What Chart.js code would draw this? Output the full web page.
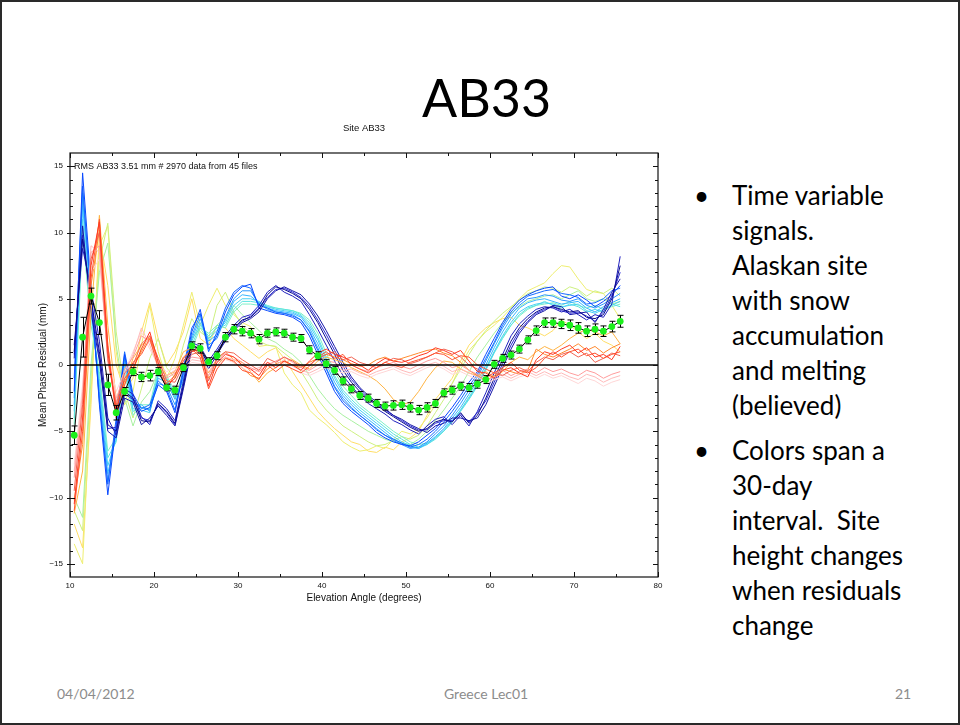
<!DOCTYPE html>
<html>
<head>
<meta charset="utf-8">
<script src="https://cdn.jsdelivr.net/npm/chart.js@4.4.0/dist/chart.umd.min.js"></script>
<style>
  html, body { margin: 0; padding: 0; background: #fff; }
  #slide { position: relative; width: 960px; height: 725px; overflow: hidden; font-family: Lato, "Open Sans", sans-serif; color: #000; }
  #border { position: absolute; left: 0; top: 0; width: 956px; height: 721px; border: 2px solid #2a2a2a; }
  #title { position: absolute; left: 0; width: 973px; top: 71px; text-align: center; font-size: 52px; line-height: 1; }
  #plot { position: absolute; left: 20px; top: 118px; width: 650px; height: 492px; }
  .blk { position: absolute; left: 732px; font-size: 26px; line-height: 35px; white-space: nowrap; }
  .dot { position: absolute; left: -38px; top: 0; }
  .foot { position: absolute; top: 685px; font-size: 14px; color: #8c8c8c; }
</style>
</head>
<body>
<div id="slide">
  <div id="border"></div>
  <div id="title">AB33</div>
  <div id="plot"><canvas id="chart"></canvas></div>
  <div class="blk" style="top:178px"><span class="dot">•</span>Time variable<br>signals.<br>Alaskan site<br>with snow<br>accumulation<br>and melting<br>(believed)</div>
  <div class="blk" style="top:433px"><span class="dot">•</span>Colors span a<br>30-day<br>interval.&nbsp; Site<br>height changes<br>when residuals<br>change</div>
  <div class="foot" style="left:57px">04/04/2012</div>
  <div class="foot" style="left:444px">Greece Lec01</div>
  <div class="foot" style="left:895px">21</div>
</div>
<script>
// elevation bins (deg)
const elev = [10.5, 11.5, 12.5, 13.5, 14.5, 15.5, 16.5, 17.5, 18.5, 19.5, 20.5,
  21.5, 22.5, 23.5, 24.5, 25.5, 26.5, 27.5, 28.5, 29.5, 30.5, 31.5,
  32.5, 33.5, 34.5, 35.5, 36.5, 37.5, 38.5, 39.5, 40.5, 41.5, 42.5,
  43.5, 44.5, 45.5, 46.5, 47.5, 48.5, 49.5, 50.5, 51.5, 52.5, 53.5,
  54.5, 55.5, 56.5, 57.5, 58.5, 59.5, 60.5, 61.5, 62.5, 63.5, 64.5,
  65.5, 66.5, 67.5, 68.5, 69.5, 70.5, 71.5, 72.5, 73.5, 74.5, 75.5];

// mean residual (mm) and its error
const meanRes = [-5.3, 2.1, 5.2, 3.2, -1.5, -3.6, -2.0, -0.5, -0.9, -0.8, -0.5,
  -1.7, -1.9, -0.2, 1.45, 1.25, 0.25, 0.7, 2.1, 2.7, 2.55, 2.4,
  1.95, 2.4, 2.5, 2.4, 2.1, 2.0, 1.15, 0.7, 0.1, -0.4, -1.2,
  -1.8, -2.3, -2.5, -2.9, -3.1, -3.05, -3.0, -3.2, -3.4, -3.2, -2.9,
  -2.1, -1.9, -1.6, -1.7, -1.45, -1.1, 0.05, 0.5, 0.75, 1.2, 1.9,
  2.6, 3.2, 3.2, 3.1, 3.0, 2.8, 2.55, 2.7, 2.55, 2.9, 3.3];
const meanErr = [0.7, 1.5, 0.6, 0.9, 0.8, 0.55, 0.3, 0.3, 0.35, 0.4, 0.3,
  0.25, 0.3, 0.3, 0.3, 0.35, 0.3, 0.3, 0.35, 0.35, 0.35, 0.35,
  0.35, 0.3, 0.3, 0.3, 0.3, 0.3, 0.3, 0.3, 0.3, 0.3, 0.3,
  0.3, 0.3, 0.3, 0.3, 0.3, 0.35, 0.35, 0.35, 0.35, 0.35, 0.3,
  0.3, 0.3, 0.3, 0.3, 0.3, 0.3, 0.3, 0.3, 0.3, 0.3, 0.3,
  0.35, 0.35, 0.35, 0.35, 0.4, 0.4, 0.4, 0.4, 0.4, 0.4, 0.45];

// daily residual curves, grouped by colour
const navy1 = [1.0, 9.5, 5.0, 1.0, -4.5, -5.0, -2.0, -2.5, -4.2, -4.3, -2.9,
  -3.5, -4.4, -1.5, 1.5, 1.2, 0.0, 1.0, 2.0, 2.8, 3.4, 3.6,
  4.2, 5.3, 5.9, 5.7, 5.4, 5.0, 4.2, 3.2, 2.0, 0.8, -0.4,
  -1.3, -2.0, -2.6, -3.0, -3.5, -3.9, -4.3, -4.7, -5.0, -4.8, -4.3,
  -4.1, -4.3, -3.6, -4.4, -3.8, -2.5, -1.0, 0.4, 1.8, 2.8, 3.5,
  4.0, 4.3, 4.4, 4.2, 4.0, 4.1, 3.6, 3.5, 3.8, 5.0, 7.5];
const navy2 = [0.5, 10.5, 4.0, 0.3, -5.0, -5.5, -2.5, -2.8, -4.5, -4.0, -3.1,
  -3.8, -4.6, -1.8, 1.2, 1.0, -0.3, 0.8, 1.8, 2.6, 3.2, 3.5,
  4.0, 5.0, 5.6, 5.9, 5.6, 5.3, 4.6, 3.7, 2.6, 1.4, 0.2,
  -0.9, -1.7, -2.3, -2.8, -3.3, -3.8, -4.1, -4.5, -4.8, -5.1, -4.6,
  -4.4, -4.0, -4.0, -4.2, -4.0, -3.0, -1.6, -0.2, 1.2, 2.4, 3.2,
  3.8, 4.1, 4.5, 4.4, 3.8, 3.9, 4.0, 3.2, 4.2, 5.5, 6.5];
const navy3 = [1.5, 8.8, 5.8, 1.8, -4.0, -5.3, -1.8, -2.2, -3.9, -4.5, -2.7,
  -3.3, -4.2, -1.2, 1.7, 1.4, 0.3, 1.2, 2.2, 3.0, 3.6, 3.8,
  4.5, 5.5, 6.0, 5.5, 5.2, 4.8, 3.8, 2.7, 1.5, 0.3, -0.8,
  -1.6, -2.3, -2.9, -3.3, -3.7, -4.2, -4.5, -4.9, -5.2, -4.6, -4.1,
  -3.9, -4.5, -3.8, -4.6, -3.5, -2.1, -0.6, 0.8, 2.2, 3.1, 3.7,
  4.2, 4.4, 4.3, 4.0, 4.2, 3.8, 3.4, 3.8, 3.6, 4.6, 8.2];
const navy4 = [0.8, 9.8, 4.6, 0.6, -4.8, -4.7, -2.2, -2.6, -4.0, -4.2, -3.0,
  -3.6, -4.5, -1.6, 1.4, 1.1, 0.1, 0.9, 1.9, 2.7, 3.3, 3.7,
  4.3, 5.1, 5.7, 5.8, 5.5, 5.1, 4.4, 3.4, 2.3, 1.1, -0.1,
  -1.1, -1.8, -2.5, -2.9, -3.4, -3.8, -4.2, -4.6, -4.9, -4.9, -4.4,
  -4.2, -4.2, -3.7, -4.3, -3.6, -2.7, -1.3, 0.1, 1.5, 2.6, 3.3,
  3.9, 4.2, 4.4, 4.1, 3.9, 4.0, 3.7, 3.3, 4.0, 5.2, 7.0];
const blue1 = [-2.0, 14.5, 6.0, -3.0, -9.8, -4.5, 0.8, -2.5, -3.5, -3.2, -1.5,
  -2.0, -3.6, -0.5, 2.5, 4.2, 1.2, 2.2, 4.0, 5.3, 5.9, 6.1,
  4.3, 4.1, 3.9, 3.8, 3.6, 3.2, 2.2, 0.8, -0.6, -2.0, -2.9,
  -3.5, -4.0, -4.5, -5.1, -5.5, -5.8, -6.0, -6.1, -5.8, -5.3, -4.8,
  -4.0, -3.2, -2.3, -1.3, -0.5, 0.8, 2.0, 3.2, 4.2, 4.9, 5.3,
  5.6, 5.8, 5.9, 5.2, 5.0, 5.3, 4.9, 4.4, 4.8, 5.3, 6.0];
const blue2 = [-1.0, 13.5, 5.2, -2.5, -9.0, -4.0, 1.0, -2.2, -3.3, -3.0, -1.2,
  -1.8, -3.4, -0.2, 2.8, 3.9, 1.0, 2.5, 4.3, 5.5, 6.0, 5.8,
  4.5, 4.3, 4.0, 3.9, 3.7, 3.4, 2.5, 1.1, -0.3, -1.7, -2.7,
  -3.3, -3.8, -4.3, -4.9, -5.3, -5.6, -5.9, -6.2, -6.0, -5.6, -5.0,
  -4.3, -3.5, -2.6, -1.6, -0.7, 0.5, 1.7, 3.0, 4.0, 4.7, 5.2,
  5.4, 5.6, 5.7, 5.4, 5.3, 5.1, 4.6, 4.7, 5.0, 5.6, 5.8];
const sky1 = [-2.5, 13.0, 5.5, -2.8, -8.8, -4.8, 0.6, -2.8, -3.2, -3.4, -1.4,
  -1.6, -3.0, -0.8, 2.2, 3.8, 1.5, 2.0, 3.6, 5.0, 5.6, 5.6,
  4.6, 4.2, 4.0, 3.9, 3.8, 3.4, 2.6, 1.3, -0.2, -1.6, -2.5,
  -3.2, -3.8, -4.3, -4.8, -5.3, -5.7, -6.0, -6.3, -6.2, -5.8, -5.2,
  -4.6, -3.8, -2.9, -1.9, -0.9, 0.3, 1.6, 2.8, 3.8, 4.5, 5.0,
  5.1, 5.3, 5.2, 4.9, 4.8, 5.0, 4.5, 4.3, 4.6, 5.0, 5.4];
const sky2 = [-3.0, 12.5, 4.8, -2.0, -8.2, -5.2, 0.4, -3.0, -3.0, -3.5, -1.0,
  -1.3, -2.6, -1.0, 2.0, 3.5, 1.8, 2.3, 3.4, 4.8, 5.3, 5.2,
  4.7, 4.3, 4.1, 4.0, 3.9, 3.6, 2.8, 1.6, 0.1, -1.3, -2.3,
  -3.0, -3.6, -4.1, -4.6, -5.1, -5.6, -5.9, -6.2, -6.3, -5.9, -5.4,
  -4.8, -4.0, -3.2, -2.2, -1.2, 0.0, 1.3, 2.5, 3.5, 4.3, 4.7,
  4.9, 5.0, 4.8, 4.6, 4.7, 4.8, 4.3, 4.0, 4.4, 4.7, 5.0];
const sky3 = [-3.5, 12.0, 4.3, -1.5, -7.6, -5.6, 0.2, -3.3, -3.4, -3.6, -0.8,
  -1.1, -2.4, -1.2, 1.8, 3.2, 2.0, 2.6, 3.2, 4.5, 5.0, 5.0,
  4.8, 4.4, 4.2, 4.1, 4.0, 3.7, 3.0, 1.9, 0.4, -1.0, -2.1,
  -2.8, -3.4, -3.9, -4.4, -4.9, -5.4, -5.8, -6.1, -6.3, -6.0, -5.5,
  -4.9, -4.2, -3.4, -2.5, -1.5, -0.3, 1.0, 2.2, 3.2, 4.0, 4.4,
  4.6, 4.7, 4.6, 4.4, 4.5, 4.6, 4.1, 3.9, 4.2, 4.5, 4.8];
const cyan1 = [-4.0, 11.0, 3.8, -1.0, -7.0, -5.8, 0.0, -3.5, -3.2, -3.3, -0.6,
  -1.0, -2.2, -1.4, 1.5, 3.0, 2.2, 2.8, 3.0, 4.2, 4.8, 4.8,
  4.7, 4.5, 4.3, 4.2, 4.1, 3.8, 3.2, 2.1, 0.6, -0.8, -1.9,
  -2.6, -3.2, -3.7, -4.2, -4.7, -5.2, -5.6, -6.0, -6.2, -6.0, -5.6,
  -5.0, -4.3, -3.5, -2.6, -1.6, -0.4, 0.9, 2.0, 3.0, 3.8, 4.3,
  4.5, 4.8, 4.5, 4.3, 4.6, 4.4, 4.0, 4.2, 4.0, 4.6, 4.4];
const cyan2 = [-4.5, 10.0, 3.0, -0.5, -6.5, -5.5, -0.5, -3.8, -3.0, -3.0, -0.3,
  -0.8, -2.0, -1.5, 1.2, 2.8, 2.4, 3.0, 2.8, 4.0, 4.6, 4.6,
  4.5, 4.4, 4.3, 4.2, 4.1, 3.9, 3.4, 2.4, 0.9, -0.5, -1.6,
  -2.3, -3.0, -3.5, -4.0, -4.5, -5.0, -5.4, -5.8, -6.0, -5.9, -5.5,
  -5.0, -4.3, -3.4, -2.4, -1.4, -0.2, 1.0, 2.1, 3.0, 3.7, 4.2,
  4.5, 4.6, 4.7, 4.5, 4.8, 4.5, 4.3, 4.5, 4.2, 4.4, 4.6];
const lgreen1 = [-10.0, -11.5, 0.0, 7.0, 9.2, 1.5, -2.5, -4.6, -2.8, -2.0, -0.5,
  -1.0, -2.5, -0.5, 2.0, 2.8, 1.8, 3.0, 3.6, 4.5, 3.8, 3.2,
  2.6, 2.0, 1.7, 1.2, 0.8, 0.2, -0.8, -1.8, -2.6, -3.3, -3.8,
  -4.2, -4.6, -5.0, -5.3, -5.6, -5.8, -5.9, -6.0, -5.6, -5.0, -4.2,
  -3.4, -2.5, -1.6, -0.5, 0.6, 1.5, 2.4, 3.2, 3.9, 4.4, 4.8,
  5.0, 5.2, 5.3, 5.0, 5.3, 5.6, 5.0, 4.8, 5.0, 4.6, 4.8];
const lgreen2 = [-11.0, -12.5, -1.0, 7.8, 10.7, 2.5, -2.0, -4.0, -1.8, 0.5, 2.0,
  -0.2, -1.0, 1.5, 3.5, 2.5, 2.0, 4.5, 5.5, 4.0, 3.0, 2.4,
  1.8, 1.5, 1.4, 0.9, 0.4, -0.5, -1.5, -2.6, -3.4, -4.0, -4.6,
  -5.0, -5.4, -5.8, -6.1, -6.0, -5.7, -5.4, -5.6, -5.3, -4.6, -3.6,
  -2.6, -1.4, -0.3, 0.8, 1.8, 2.6, 3.3, 3.9, 4.4, 4.9, 5.4,
  5.6, 5.9, 5.8, 5.5, 5.9, 5.7, 5.2, 5.6, 5.4, 5.8, 5.2];
const yellow1 = [-13.5, -15.0, -2.0, 9.0, 10.5, 1.0, -3.0, -2.0, 1.5, 4.5, 1.0,
  -1.0, 0.5, 3.0, 5.5, 3.0, 4.5, 5.8, 4.5, 3.8, 3.2, 2.9,
  1.4, 1.5, 1.4, -0.6, -1.5, -2.1, -3.4, -4.0, -4.5, -5.1, -5.8,
  -6.2, -6.5, -6.4, -6.1, -6.3, -5.6, -5.0, -5.2, -4.8, -4.0, -3.0,
  -2.2, -1.4, 0.0, 1.1, 1.8, 2.5, 3.0, 3.6, 4.3, 5.0, 5.6,
  5.9, 6.2, 6.9, 7.5, 7.4, 6.5, 5.7, 5.5, 5.4, 4.5, 3.5];
const yellow2 = [-12.0, -13.8, -3.0, 10.0, 6.0, 0.0, -2.0, -1.0, 2.5, 4.7, 2.0,
  0.0, 1.0, 2.5, 5.0, 2.0, 1.5, 3.0, 2.8, 2.0, 1.5, 1.0,
  0.5, 1.0, 1.3, 0.5, -0.5, -1.5, -2.5, -3.5, -4.2, -4.8, -5.3,
  -5.8, -6.0, -6.5, -6.6, -6.2, -6.4, -5.8, -5.5, -5.0, -3.8, -2.6,
  -1.8, -1.0, 0.3, 1.5, 2.2, 2.8, 3.2, 3.5, 3.6, 3.0, 2.8,
  2.5, 2.2, 2.6, 3.4, 3.0, 2.5, 2.0, 2.4, 1.8, 1.5, 1.0];
const orange1 = [-11.2, -8.0, 4.0, 11.3, 3.0, -2.5, -1.5, 0.5, 1.5, 2.0, 0.5,
  -0.8, -0.5, 1.0, 1.3, 0.8, -0.6, 0.5, 1.0, 0.4, 0.2, -0.5,
  -1.3, -0.6, -0.2, 0.2, 0.4, 0.0, -0.3, 0.3, 0.6, 0.4, 0.2,
  -0.2, -0.5, -0.8, -1.2, -1.8, -2.6, -3.0, -2.8, -2.0, -1.0, -0.2,
  0.3, 0.2, -0.3, -0.6, -0.8, -0.5, -0.9, -0.5, 0.2, 0.6, 0.4,
  1.0, 1.4, 1.1, 1.5, 2.0, 2.4, 2.7, 2.5, 2.2, 2.5, 1.6];
const orange2 = [-10.2, -6.0, 6.0, 10.2, 1.5, -3.2, -1.2, -0.2, 1.0, 2.2, 0.0,
  -1.4, -0.8, 0.6, 1.1, 1.3, -1.0, 0.0, 0.6, 0.2, -0.2, -0.8,
  -1.0, -0.3, 0.1, 0.3, 0.0, -0.2, 0.2, 0.5, 0.8, 0.6, 0.4,
  0.1, -0.1, 0.0, 0.4, 0.6, 0.3, 0.5, 0.7, 0.9, 1.1, 1.2,
  0.9, 0.7, 0.2, -0.4, -0.8, -1.2, -0.8, -0.3, -0.5, -0.7, -0.4,
  1.2, 0.8, 0.6, 0.9, 1.2, 1.6, 1.1, 1.4, 0.9, 1.3, 1.6];
const red1 = [-10.5, -4.0, 7.5, 10.8, 1.0, -3.5, -1.0, -0.3, 1.2, 2.5, 0.2,
  -1.6, -1.0, 0.3, 1.0, 1.2, -1.6, 0.2, 0.8, 0.6, 0.0, -0.3,
  -0.8, 0.2, -0.2, 0.3, 0.0, -0.4, 0.3, 0.9, 1.2, 0.8, 0.6,
  0.3, 0.0, -0.4, 0.1, 0.5, 0.3, 0.2, 0.4, 0.7, 0.9, 1.3,
  1.1, 0.8, 1.1, 0.3, -0.5, -0.6, -1.0, -0.4, -0.2, -0.6, -0.9,
  0.4, 1.0, 0.8, 1.2, 1.5, 0.9, 1.3, 0.6, 0.8, 0.4, 1.4];
const red2 = [-9.5, -3.0, 8.0, 10.0, 0.5, -3.0, -0.6, 0.0, 1.6, 2.2, 0.5,
  -1.2, -1.3, 0.0, 0.8, 1.0, -1.2, 0.5, 1.0, 0.9, 0.4, 0.0,
  -0.4, 0.5, 0.2, 0.6, 0.3, -0.1, 0.0, 0.5, 0.8, 1.0, 0.4,
  0.6, 0.2, 0.0, -0.2, 0.2, 0.5, 0.4, 0.1, 0.3, 0.6, 0.9,
  1.2, 1.0, 0.6, 0.0, -0.3, -0.9, -0.6, -0.8, -0.4, -0.2, -0.5,
  0.2, 0.6, 0.4, 0.8, 1.0, 0.6, 0.9, 0.2, 0.5, 0.9, 0.7];
const red3 = [-11.0, -5.0, 6.5, 11.0, 1.5, -4.0, -1.5, 0.2, 0.8, 2.0, -0.2,
  -1.8, -0.7, 0.5, 1.2, 0.6, -1.8, -0.3, 0.5, 0.3, -0.4, -0.6,
  -1.1, 0.0, -0.5, 0.0, -0.3, -0.6, -0.1, 0.6, 1.0, 0.5, 0.8,
  0.0, -0.3, -0.6, -0.2, 0.2, 0.0, -0.2, 0.2, 0.4, 0.6, 0.9,
  0.8, 0.4, 0.7, 0.6, 0.0, -0.3, -0.6, -0.2, 0.2, -0.4, -0.6,
  -0.2, 0.5, 1.0, 0.6, 1.0, 1.2, 0.7, 0.9, 0.5, 0.8, 1.0];
const pink1 = [-8.5, -2.5, 8.5, 9.0, 0.2, -2.8, -0.3, 0.6, 2.2, 1.8, 0.2,
  -1.0, -0.6, 0.0, 0.6, 0.5, -0.8, 0.4, 0.9, 0.6, 0.2, -0.2,
  -0.5, 0.0, 0.3, 0.6, 0.2, -0.2, -0.4, 0.0, 0.3, 0.2, -0.2,
  0.0, -0.3, -0.5, -0.2, 0.0, 0.2, -0.1, -0.3, 0.0, 0.3, 0.5,
  0.2, -0.2, 0.0, -0.4, -0.7, -1.0, -0.6, -0.4, -0.8, -0.5, -0.3,
  -0.6, -0.2, -0.5, -0.3, -0.6, -0.8, -0.4, -0.6, -1.0, -0.7, -0.5];
const pink2 = [-8.0, -2.0, 9.0, 8.5, 0.5, -2.5, -0.8, 0.8, 2.8, 1.5, -0.2,
  -0.8, -0.4, -0.3, 0.4, 0.3, -0.5, 0.2, 0.6, 0.4, 0.0, -0.4,
  -0.2, 0.2, 0.0, 0.4, -0.1, -0.4, -0.6, -0.3, 0.1, -0.1, -0.4,
  -0.3, -0.6, -0.8, -0.5, -0.3, -0.1, -0.4, -0.6, -0.3, 0.0, 0.2,
  -0.1, -0.5, -0.3, -0.6, -0.9, -1.2, -0.9, -0.7, -1.0, -0.7, -0.5,
  -0.8, -0.5, -0.8, -0.6, -0.9, -1.1, -0.7, -0.9, -1.3, -1.0, -0.8];
const pink3 = [-7.5, -1.5, 7.0, 8.0, 0.8, -2.0, -0.5, 1.0, 2.5, 1.2, 0.0,
  -0.5, -0.2, -0.5, 0.2, 0.1, -0.3, 0.0, 0.4, 0.2, -0.2, -0.6,
  -0.4, 0.0, -0.2, 0.2, -0.3, -0.6, -0.8, -0.5, -0.2, -0.4, -0.6,
  -0.5, -0.8, -1.0, -0.7, -0.5, -0.3, -0.6, -0.8, -0.5, -0.2, 0.0,
  -0.3, -0.7, -0.5, -0.8, -1.1, -1.4, -1.1, -0.9, -1.2, -0.9, -0.7,
  -1.0, -0.7, -1.0, -0.8, -1.1, -1.4, -1.0, -1.2, -1.6, -1.3, -1.1];

// draw order: first in list ends up on top
const curves = [
  { v: red1, c: '#ff3a22' }, { v: red3, c: '#ff5533' }, { v: red2, c: '#f26452' },
  { v: pink1, c: '#ff9c9c' }, { v: pink2, c: '#ffb9b9' }, { v: pink3, c: '#ffd6d6' },
  { v: orange2, c: '#ff8a30' }, { v: orange1, c: '#ffb444' },
  { v: navy1, c: '#0b0b8a' }, { v: navy2, c: '#1616a6' }, { v: navy3, c: '#2020bf' }, { v: navy4, c: '#2c2cd6' },
  { v: blue1, c: '#0848ff' }, { v: blue2, c: '#1468ff' },
  { v: sky1, c: '#2896ff' }, { v: sky2, c: '#38b6ff' }, { v: sky3, c: '#48d0f4' },
  { v: cyan1, c: '#5ae4e0' }, { v: cyan2, c: '#7cf0c8' },
  { v: lgreen1, c: '#a8f0a0' }, { v: lgreen2, c: '#cdf080' },
  { v: yellow1, c: '#eeee70' }, { v: yellow2, c: '#ffde66' }
];

const pts = vals => vals.map((v, i) => ({ x: elev[i], y: v }));

const datasets = [
  {
    data: pts(meanRes), borderColor: '#000', borderWidth: 1,
    pointRadius: 3.4, pointBackgroundColor: '#1cf01c', pointBorderWidth: 0
  },
  { data: [{ x: 10, y: 0 }, { x: 80, y: 0 }], borderColor: '#000', borderWidth: 1.3, pointRadius: 0 }
];
curves.forEach(k => datasets.push({ data: pts(k.v), borderColor: k.c, borderWidth: 1, pointRadius: 0 }));

const errorBars = {
  id: 'errorBars',
  beforeDatasetDraw(chart, args) {
    if (args.index !== 0) return;
    const { ctx } = chart;
    const x = chart.scales.x, y = chart.scales.y;
    ctx.save();
    ctx.strokeStyle = '#000';
    ctx.lineWidth = 1;
    ctx.beginPath();
    elev.forEach((e, i) => {
      const px = Math.round(x.getPixelForValue(e)) + 0.5;
      const t = y.getPixelForValue(meanRes[i] + meanErr[i]);
      const b = y.getPixelForValue(meanRes[i] - meanErr[i]);
      ctx.moveTo(px, t); ctx.lineTo(px, b);
      ctx.moveTo(px - 3, t); ctx.lineTo(px + 3, t);
      ctx.moveTo(px - 3, b); ctx.lineTo(px + 3, b);
    });
    ctx.stroke();
    ctx.restore();
  }
};

// box with inward ticks on all four sides, plot title and the RMS note
const frame = {
  id: 'frame',
  afterDraw(chart) {
    const { ctx, chartArea: a } = chart;
    const x = chart.scales.x, y = chart.scales.y;
    ctx.save();
    ctx.strokeStyle = '#111';
    ctx.lineWidth = 1.2;
    ctx.strokeRect(a.left, a.top, a.right - a.left, a.bottom - a.top);
    ctx.lineWidth = 1;
    ctx.beginPath();
    for (let v = 10; v <= 80; v += 5) {
      const px = Math.round(x.getPixelForValue(v)) + 0.5;
      const len = v % 10 === 0 ? 5 : 3;
      ctx.moveTo(px, a.bottom); ctx.lineTo(px, a.bottom - len);
      ctx.moveTo(px, a.top); ctx.lineTo(px, a.top + len);
    }
    for (let v = -15; v <= 15; v += 1) {
      const py = Math.round(y.getPixelForValue(v)) + 0.5;
      const major = v % 5 === 0;
      const len = major ? 5 : 3;
      ctx.moveTo(a.left - (major ? 3 : 0), py); ctx.lineTo(a.left + len, py);
      ctx.moveTo(a.right, py); ctx.lineTo(a.right - len, py);
    }
    ctx.stroke();
    ctx.fillStyle = '#111';
    ctx.textBaseline = 'middle';
    ctx.font = '9px "Liberation Sans", Arial, sans-serif';
    ctx.fillText('RMS AB33 3.51 mm # 2970 data from 45 files', a.left + 4, a.top + 14);
    ctx.font = '9.5px "Liberation Sans", Arial, sans-serif';
    ctx.textAlign = 'center';
    ctx.fillText('Site AB33', (a.left + a.right) / 2, a.top - 25);
    ctx.restore();
  }
};

const tickFont = { family: '"Liberation Sans", Arial, sans-serif', size: 8 };
const titleFont = { family: '"Liberation Sans", Arial, sans-serif', size: 10 };

new Chart(document.getElementById('chart'), {
  type: 'line',
  data: { datasets },
  plugins: [errorBars, frame],
  options: {
    responsive: true,
    maintainAspectRatio: false,
    animation: false,
    devicePixelRatio: 1,
    layout: { padding: { left: 0, right: 12, top: 35, bottom: 0 } },
    elements: { line: { tension: 0 } },
    plugins: {
      legend: { display: false },
      tooltip: { enabled: false },
      title: { display: false }
    },
    scales: {
      x: {
        type: 'linear', min: 10, max: 80,
        grid: { display: false, drawTicks: false },
        border: { display: false },
        ticks: { stepSize: 10, font: tickFont, color: '#111', padding: 4, maxRotation: 0, autoSkip: false },
        title: { display: true, text: 'Elevation Angle (degrees)', font: titleFont, color: '#111', padding: { top: 0, bottom: 6 } },
        afterFit: s => { s.height = 33; }
      },
      y: {
        min: -16, max: 16,
        grid: { display: false, drawTicks: false },
        border: { display: false },
        afterBuildTicks: s => { s.ticks = s.ticks.filter(t => t.value % 5 === 0); },
        ticks: {
          stepSize: 5, font: tickFont, color: '#111', padding: 7, autoSkip: false,
          callback: v => String(v).replace('-', '\u2212')
        },
        title: { display: true, text: 'Mean Phase Residual (mm)', font: titleFont, color: '#111', padding: { top: 17, bottom: 0 } },
        afterFit: s => { s.width = 50; }
      }
    }
  }
});
</script>
</body>
</html>
